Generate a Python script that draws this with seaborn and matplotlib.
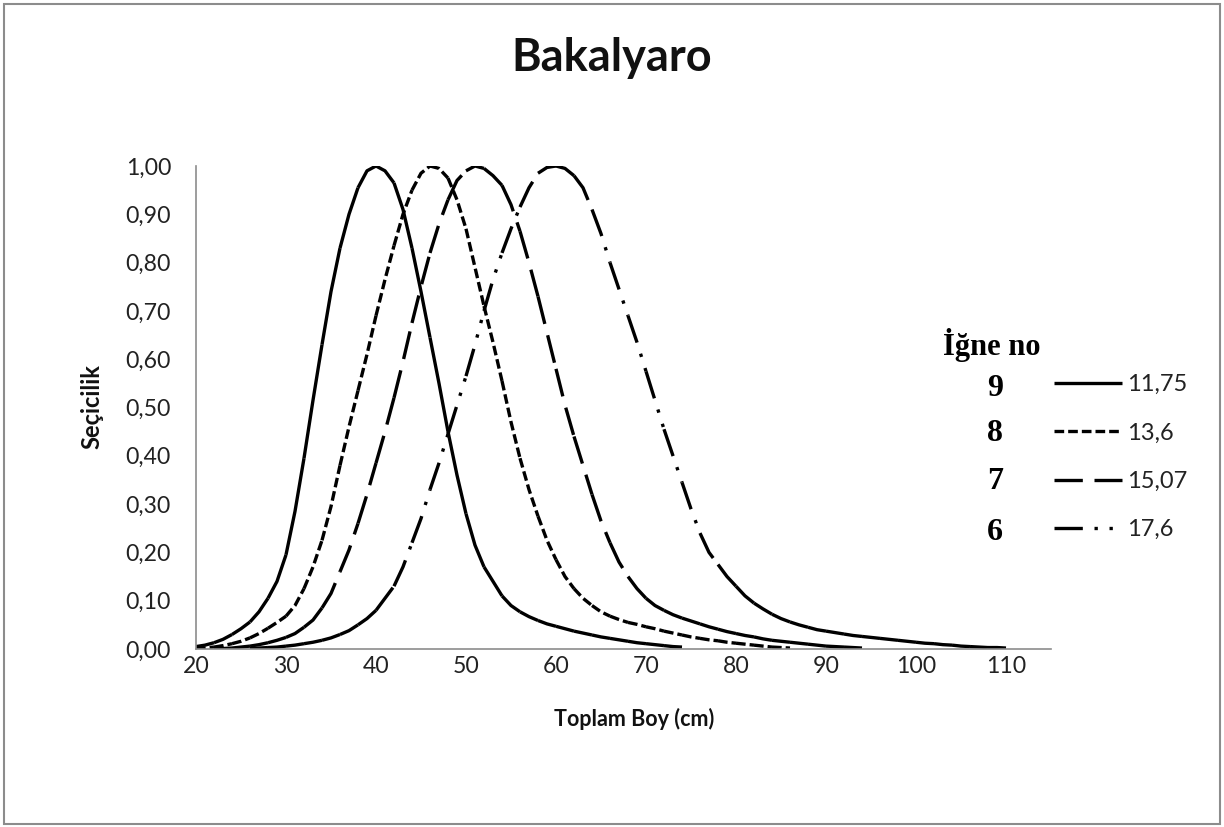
import numpy as np
import pandas as pd
import matplotlib
matplotlib.use("Agg")
import matplotlib.pyplot as plt
import seaborn as sns
from matplotlib.lines import Line2D
from matplotlib.patches import Rectangle
from matplotlib.ticker import FuncFormatter

# ---------------- data ----------------
title = "Bakalyaro"
x_label = "Toplam Boy (cm)"
y_label = "Seçicilik"
legend_title = "İğne no"
hook_numbers = ["9", "8", "7", "6"]
series_labels = ["11,75", "13,6", "15,07", "17,6"]
x_ticks = [20, 30, 40, 50, 60, 70, 80, 90, 100, 110]
y_ticks = [0.0, 0.1, 0.2, 0.3, 0.4, 0.5, 0.6, 0.7, 0.8, 0.9, 1.0]

# first length (cm) of each series; values follow at 1 cm steps
x_start = [20, 20, 22, 26]

sel_9 = [0.005, 0.008, 0.013, 0.020, 0.030, 0.042, 0.056, 0.077, 0.105, 0.140,
         0.195, 0.285, 0.395, 0.515, 0.630, 0.740, 0.830, 0.900, 0.955, 0.990,
         1.000, 0.990, 0.965, 0.910, 0.830, 0.740, 0.645, 0.550, 0.450, 0.360,
         0.280, 0.215, 0.170, 0.140, 0.110, 0.090, 0.077, 0.067, 0.059, 0.052,
         0.047, 0.042, 0.037, 0.033, 0.029, 0.025, 0.022, 0.019, 0.016, 0.013,
         0.011, 0.009, 0.007, 0.005, 0.004]

sel_8 = [0.001, 0.002, 0.004, 0.007, 0.011, 0.016, 0.023, 0.032, 0.043, 0.055,
         0.068, 0.090, 0.125, 0.170, 0.225, 0.295, 0.380, 0.460, 0.535, 0.610,
         0.690, 0.765, 0.835, 0.900, 0.950, 0.985, 1.000, 0.995, 0.975, 0.930,
         0.870, 0.790, 0.710, 0.635, 0.555, 0.470, 0.395, 0.330, 0.275, 0.225,
         0.185, 0.150, 0.125, 0.105, 0.090, 0.077, 0.068, 0.061, 0.055, 0.051,
         0.046, 0.042, 0.037, 0.033, 0.029, 0.025, 0.022, 0.019, 0.017, 0.014,
         0.012, 0.010, 0.008, 0.006, 0.004, 0.003, 0.002]

sel_7 = [0.001, 0.001, 0.002, 0.004, 0.006, 0.009, 0.013, 0.018, 0.024, 0.032,
         0.045, 0.060, 0.085, 0.115, 0.160, 0.205, 0.260, 0.320, 0.385, 0.450,
         0.520, 0.595, 0.675, 0.750, 0.820, 0.880, 0.930, 0.970, 0.990, 1.000,
         0.995, 0.980, 0.960, 0.920, 0.865, 0.800, 0.730, 0.655, 0.580, 0.505,
         0.440, 0.380, 0.320, 0.265, 0.220, 0.180, 0.150, 0.125, 0.105, 0.090,
         0.080, 0.071, 0.064, 0.058, 0.052, 0.046, 0.041, 0.036, 0.032, 0.028,
         0.025, 0.021, 0.018, 0.016, 0.014, 0.012, 0.010, 0.008, 0.006, 0.005,
         0.004, 0.003, 0.002]

sel_6 = [0.001, 0.002, 0.003, 0.004, 0.006, 0.008, 0.011, 0.014, 0.018, 0.023,
         0.030, 0.038, 0.050, 0.063, 0.080, 0.105, 0.130, 0.170, 0.220, 0.270,
         0.330, 0.385, 0.445, 0.505, 0.565, 0.630, 0.700, 0.765, 0.820, 0.870,
         0.915, 0.955, 0.985, 0.997, 1.000, 0.995, 0.980, 0.955, 0.910, 0.860,
         0.800, 0.745, 0.690, 0.635, 0.575, 0.515, 0.455, 0.400, 0.345, 0.290,
         0.240, 0.200, 0.175, 0.150, 0.130, 0.110, 0.095, 0.083, 0.072, 0.063,
         0.056, 0.050, 0.045, 0.040, 0.037, 0.034, 0.031, 0.028, 0.026, 0.024,
         0.022, 0.020, 0.018, 0.016, 0.014, 0.012, 0.011, 0.009, 0.008, 0.006,
         0.005, 0.004, 0.003, 0.003, 0.002]

series_values = [sel_9, sel_8, sel_7, sel_6]

# ---------------- styles ----------------
LW = 2.4
dash_styles = {
    "11,75": "",
    "13,6": (2.9, 1.2),
    "15,07": (8.5, 3.5),
    "17,6": (8.5, 3.5, 1, 3.5, 1, 3.5),
}

# Excel draws each 2 cm piece as its own segment, restarting the dash pattern
rows = []
uid = 0
for lab, xs0, vals in zip(series_labels, x_start, series_values):
    xs = np.arange(xs0, xs0 + len(vals))
    n = len(vals)
    for j in range(0, n - 1, 2):
        for k in range(j, min(j + 3, n)):
            rows.append({"x": xs[k], "y": vals[k], "series": lab, "unit": uid})
        uid += 1
df = pd.DataFrame(rows)

sns.set_theme(style="white")
plt.rcParams["font.family"] = ["Lato", "DejaVu Sans"]
plt.rcParams["lines.solid_capstyle"] = "butt"

W, H = 1224, 827
fig = plt.figure(figsize=(W / 100, H / 100), dpi=100)
ax = fig.add_axes([196 / W, 1 - 649 / H, (1051 - 196) / W, (649 - 166) / H])

sns.lineplot(data=df, x="x", y="y", units="unit", estimator=None, style="series",
             style_order=series_labels, dashes=dash_styles, color="black",
             linewidth=LW, legend=False, sort=False, ax=ax)

ax.set_xlim(20, 115)
ax.set_ylim(0, 1.0)
ax.set_xticks(x_ticks)
ax.set_yticks(y_ticks)
ax.yaxis.set_major_formatter(FuncFormatter(lambda v, p: f"{v:.2f}".replace(".", ",")))
ax.xaxis.set_major_formatter(FuncFormatter(lambda v, p: f"{v:.0f}"))
ax.tick_params(axis="both", length=0, labelsize=16.6, colors="#000000")
ax.tick_params(axis="y", pad=18)
ax.tick_params(axis="x", pad=5)
for lab in ax.get_xticklabels() + ax.get_yticklabels():
    lab.set_color("#222222")
for s in ["top", "right"]:
    ax.spines[s].set_visible(False)
for s in ["left", "bottom"]:
    ax.spines[s].set_color("#8c8c8c")
    ax.spines[s].set_linewidth(1.2)
ax.set_xlabel("")
ax.set_ylabel("")
ax.grid(False)

# titles
fig.text(612 / W, 1 - 58 / H, title, ha="center", va="center",
         fontsize=32.5, fontweight="bold", color="#111111")
fig.text(634 / W, 1 - 719 / H, x_label, ha="center", va="center",
         fontsize=15.5, fontweight="bold", color="#111111")
fig.text(92 / W, 1 - 407 / H, y_label, ha="center", va="center", rotation=90,
         fontsize=17, fontweight="bold", color="#111111")

# legend: lines + labels
handles = []
for lab in series_labels:
    d = dash_styles[lab]
    if d == "":
        h = Line2D([], [], color="black", lw=LW, linestyle="-")
    else:
        h = Line2D([], [], color="black", lw=LW, dashes=d)
    handles.append(h)
fig.legend(handles, series_labels, loc="upper left",
           bbox_to_anchor=(1054 / W, 1 - 374 / H), bbox_transform=fig.transFigure,
           frameon=False, fontsize=17, handlelength=2.88, handletextpad=0.2,
           labelspacing=1.16, borderpad=0, borderaxespad=0, labelcolor="#222222")

# hook numbers and heading (serif bold)
serif = ["Liberation Serif", "DejaVu Serif"]
fig.text(992 / W, 1 - 345 / H, legend_title, ha="center", va="center",
         fontsize=22, fontweight="bold", family=serif, color="black")
for num, yc in zip(hook_numbers, [389, 434, 482, 532]):
    fig.text(995 / W, 1 - yc / H, num, ha="center", va="center",
             fontsize=23, fontweight="bold", family=serif, color="black")

# chart border
fig.add_artist(Rectangle((4 / W, 3 / H), 1 - 8 / W, 1 - 7 / H, transform=fig.transFigure,
                         fill=False, edgecolor="#8c8c8c", linewidth=1.5))

fig.savefig("out.png", dpi=100, facecolor="white")
